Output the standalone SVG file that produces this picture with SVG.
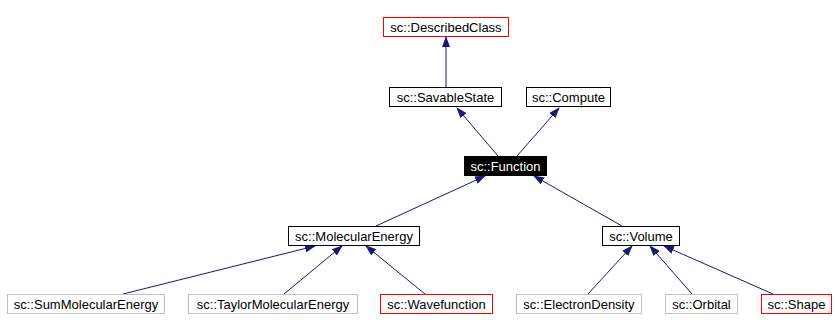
<svg xmlns="http://www.w3.org/2000/svg" width="836" height="332" viewBox="0 0 836 332">
<defs>
<marker id="arr" markerWidth="11" markerHeight="8" refX="10" refY="4" orient="auto" markerUnits="userSpaceOnUse">
<path d="M0,0 L11,4 L0,8 z" fill="#191970"/>
</marker>
<style>
.n rect{fill:#fff;stroke:#000;stroke-width:1}
.n.red rect{stroke:#ff0000}
.n.gray rect{stroke:#bfbfbf}
.n.cur rect{fill:#000;stroke:#000}
.n text{font-family:"Liberation Sans",Arial,sans-serif;font-size:13px;fill:#000;text-anchor:middle}
.n.cur text{fill:#fff}
.e line{stroke:#191970;stroke-width:1;marker-end:url(#arr)}
</style>
</defs>
<rect width="836" height="332" fill="#fff"/>
<g id="edges" class="e">
<line x1="446" y1="88" x2="446" y2="37"/>
<line x1="498" y1="156" x2="457" y2="108"/>
<line x1="517" y1="156" x2="559" y2="108"/>
<line x1="376" y1="226" x2="485" y2="176"/>
<line x1="622" y1="226" x2="534" y2="176"/>
<line x1="123" y1="294" x2="315" y2="246"/>
<line x1="284" y1="294" x2="342" y2="246"/>
<line x1="425" y1="294" x2="366" y2="246"/>
<line x1="588" y1="294" x2="632" y2="246"/>
<line x1="692" y1="294" x2="650" y2="246"/>
<line x1="773" y1="294" x2="664" y2="246"/>
</g>
<g id="DescribedClass" class="n red"><rect x="383.5" y="17.5" width="125" height="19"/><text x="446" y="31.5">sc::DescribedClass</text></g>
<g id="SavableState" class="n"><rect x="389.5" y="87.5" width="112" height="19"/><text x="445.5" y="101.5">sc::SavableState</text></g>
<g id="Compute" class="n"><rect x="526.5" y="87.5" width="84" height="19"/><text x="568.5" y="101.5">sc::Compute</text></g>
<g id="Function" class="n cur"><rect x="464.5" y="156.5" width="82" height="19"/><text x="505.5" y="170.5">sc::Function</text></g>
<g id="MolecularEnergy" class="n"><rect x="288.5" y="226.5" width="131" height="19"/><text x="354" y="240.5">sc::MolecularEnergy</text></g>
<g id="Volume" class="n"><rect x="602.5" y="226.5" width="77" height="19"/><text x="641" y="240.5">sc::Volume</text></g>
<g id="SumMolecularEnergy" class="n gray"><rect x="7.5" y="294.5" width="157" height="19"/><text x="86" y="308.5">sc::SumMolecularEnergy</text></g>
<g id="TaylorMolecularEnergy" class="n gray"><rect x="188.5" y="294.5" width="169" height="19"/><text x="273" y="308.5">sc::TaylorMolecularEnergy</text></g>
<g id="Wavefunction" class="n red"><rect x="380.5" y="294.5" width="112" height="19"/><text x="436.5" y="308.5">sc::Wavefunction</text></g>
<g id="ElectronDensity" class="n gray"><rect x="516.5" y="294.5" width="125" height="19"/><text x="579" y="308.5">sc::ElectronDensity</text></g>
<g id="Orbital" class="n gray"><rect x="665.5" y="294.5" width="72" height="19"/><text x="701.5" y="308.5">sc::Orbital</text></g>
<g id="Shape" class="n red"><rect x="761.5" y="294.5" width="70" height="19"/><text x="796.5" y="308.5">sc::Shape</text></g>
</svg>
